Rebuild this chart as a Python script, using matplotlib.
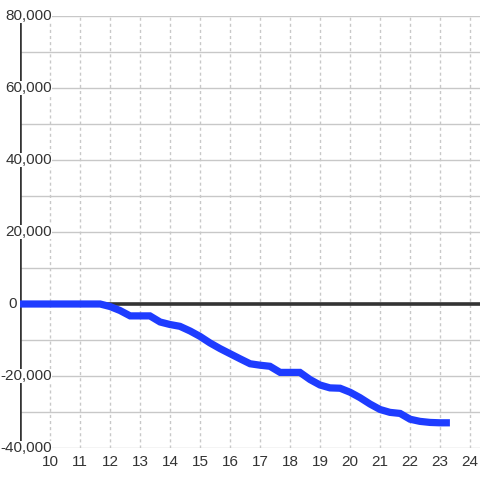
import numpy as np
import matplotlib
matplotlib.use('Agg')
import matplotlib.pyplot as plt
from matplotlib import transforms

# data (x in hours, y in value)
hours = [9.0, 9.33, 9.67, 10.0, 10.33, 10.67, 11.0, 11.33, 11.67,
         12.0, 12.33, 12.67, 13.0, 13.33, 13.67, 14.0, 14.33, 14.67,
         15.0, 15.33, 15.67, 16.0, 16.33, 16.67, 17.0, 17.33, 17.67,
         18.0, 18.33, 18.67, 19.0, 19.33, 19.67, 20.0, 20.33, 20.67,
         21.0, 21.33, 21.67, 22.0, 22.33, 22.67, 23.0, 23.33]
values = [0, 0, 0, 0, 0, 0, 0, 0, 0,
          -700, -1800, -3300, -3300, -3300, -5000, -5700, -6200, -7500,
          -9000, -10800, -12400, -13800, -15200, -16600, -17000, -17300, -19000,
          -19000, -19000, -21000, -22500, -23300, -23400, -24500, -26000, -27800,
          -29300, -30100, -30400, -32000, -32600, -32900, -33000, -33000]

ytick_vals = [-40000, -20000, 0, 20000, 40000, 60000, 80000]
xtick_vals = list(range(10, 25))

fig = plt.figure(figsize=(4.8, 4.8), dpi=100)
ax = fig.add_axes([20/480, 1 - 448/480, 460/480, 432/480])
ax.set_xlim(9, 24.333)
ax.set_ylim(-40000, 80000)

for s in ax.spines.values():
    s.set_visible(False)

# grid
for yv in range(-40000, 80001, 10000):
    ax.axhline(yv, color='#c8c8c8', lw=1, zorder=1)
for xv in xtick_vals:
    ax.axvline(xv, color='#c8c8c8', lw=1, ls=(0, (2.2, 2.2)), zorder=1)

# axis lines
ax.axvline(9, color='#333333', lw=2.6, zorder=2)
ax.axhline(0, color='#333333', lw=2.6, zorder=2)

ax.plot(hours, values, color='#1e3cff', lw=5.2, solid_joinstyle='miter',
        solid_capstyle='butt', zorder=4)

ax.set_yticks([])
ax.set_xticks(xtick_vals)
ax.set_xticklabels([str(x) for x in xtick_vals], fontsize=11, color='#333333',
                   family='Liberation Sans')
ax.tick_params(axis='x', length=0, pad=5)

# y labels sit inside the plot with a white backing (the zero one sits left of the axis)
trans = transforms.blended_transform_factory(fig.transFigure, ax.transData)
for yv in ytick_vals:
    xpos = 17/480 if yv == 0 else 52/480
    ax.text(xpos, yv, f'{yv:,}', transform=trans, ha='right', va='center',
            fontsize=11, color='#333333', family='Liberation Sans', zorder=5,
            bbox=dict(facecolor='white', edgecolor='none', pad=0.3))

fig.savefig('out.png', dpi=100)
